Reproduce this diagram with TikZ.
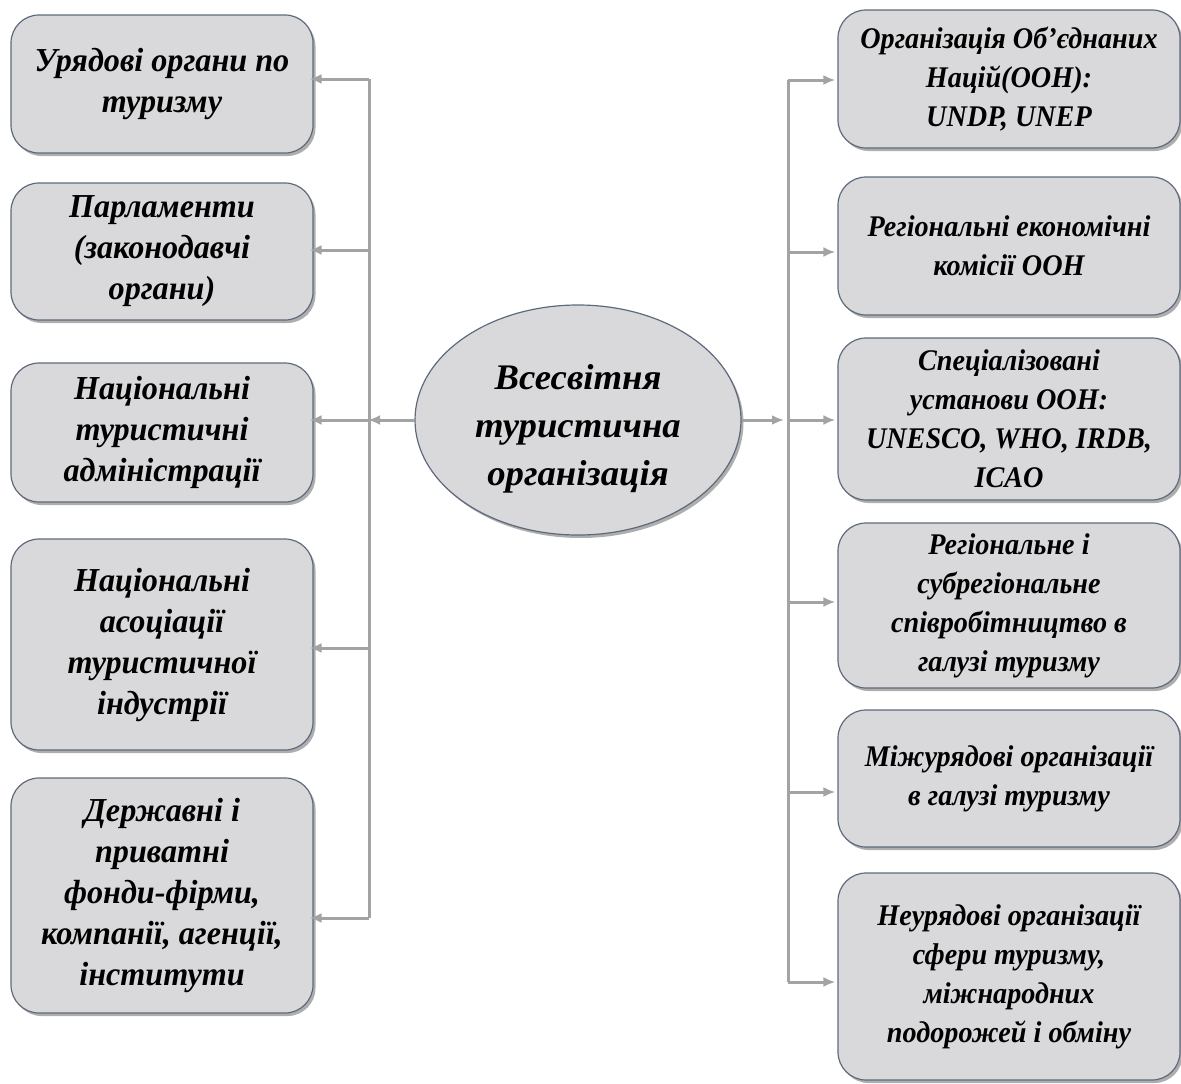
\documentclass[tikz,border=0pt]{standalone}
\usepackage{fontspec}
\setmainfont{Liberation Serif}
\newfontfamily\lfont{Liberation Serif}[FakeStretch=0.96]
\newfontfamily\rfont{Liberation Serif}[FakeStretch=0.94]
\newfontfamily\cfont{Liberation Serif}[FakeStretch=1.02]
\usetikzlibrary{arrows.meta,shadows,shapes.geometric}
\definecolor{boxfill}{HTML}{D9D9DB}
\definecolor{boxline}{HTML}{5E6A7C}
\definecolor{arrgray}{HTML}{A3A3A3}
\tikzset{
  basebox/.style={draw=boxline, line width=1.2pt, fill=boxfill, align=center, inner sep=0pt,
    drop shadow={shadow xshift=2.5pt, shadow yshift=-3pt, opacity=0.45, fill=black!70}},
  lbox/.style={basebox, rectangle, rounded corners=28pt, minimum width=302pt,
    font=\lfont\fontsize{33.5}{41}\selectfont\bfseries\itshape},
  rbox/.style={basebox, rectangle, rounded corners=28pt, minimum width=342pt,
    font=\rfont\fontsize{30}{39}\selectfont\bfseries\itshape},
  cbox/.style={basebox, ellipse, minimum width=326pt, minimum height=230pt,
    font=\cfont\fontsize{36}{48}\selectfont\bfseries\itshape},
  trunk/.style={draw=arrgray, line width=3pt},
  arrow/.style={draw=arrgray, line width=3pt, -{Latex[length=12pt,width=10pt]}}
}
\begin{document}
\begin{tikzpicture}[x=1pt,y=-1pt]
\useasboundingbox (0,0) rectangle (1181,1084);
\fill[white] (0,0) rectangle (1181,1084);

% left boxes
\node[lbox, minimum height=138pt] (L1) at (162,84) {Урядові органи по\\туризму};
\node[lbox, minimum height=137pt] (L2) at (162,251.5) {Парламенти\\(законодавчі\\органи)};
\node[lbox, minimum height=139pt] (L3) at (162,432.5) {Національні\\туристичні\\адміністрації};
\node[lbox, minimum height=211pt] (L4) at (162,644.5) {Національні\\асоціації\\туристичної\\індустрії};
\node[lbox, minimum height=235pt] (L5) at (162,895.5) {Державні і\\приватні\\фонди-фірми,\\компанії, агенції,\\інститути};

% right boxes
\node[rbox, minimum height=138pt] (R1) at (1009,79) {Організація Об’єднаних\\Націй(ООН):\\UNDP, UNEP};
\node[rbox, minimum height=138pt] (R2) at (1009,246) {Регіональні економічні\\комісії ООН};
\node[rbox, minimum height=162pt] (R3) at (1009,419) {Спеціалізовані\\установи ООН:\\UNESCO, WHO, IRDB,\\ICAO};
\node[rbox, minimum height=165pt] (R4) at (1009,605.5) {Регіональне і\\субрегіональне\\співробітництво в\\галузі туризму};
\node[rbox, minimum height=137pt] (R5) at (1009,778.5) {Міжурядові організації\\в галузі туризму};
\node[rbox, minimum height=207pt] (R6) at (1009,976.5) {Неурядові організації\\сфери туризму,\\міжнародних\\подорожей і обміну};

% central ellipse
\node[cbox] (C) at (578,420) {\rule{0pt}{42pt}Всесвітня\\туристична\\організація};

% left trunk
\coordinate (l1) at (369,79);
\coordinate (l2) at (369,250);
\coordinate (lc) at (369,420);
\coordinate (l4) at (369,648);
\coordinate (l5) at (369,918);
\draw[trunk] (l1) -- (l5);
\draw[arrow, shorten >=-1pt] (C.west) -- (lc);
\draw[arrow, shorten >=-4pt] (l1) -- (l1 -| L1.east);
\draw[arrow, shorten >=-4pt] (l2) -- (l2 -| L2.east);
\draw[arrow, shorten >=-4pt] (lc) -- (lc -| L3.east);
\draw[arrow, shorten >=-4pt] (l4) -- (l4 -| L4.east);
\draw[arrow, shorten >=-4pt] (l5) -- (l5 -| L5.east);

% right trunk
\coordinate (r1) at (788,80);
\coordinate (r2) at (788,252);
\coordinate (rc) at (788,420);
\coordinate (r4) at (788,602);
\coordinate (r5) at (788,792);
\coordinate (r6) at (788,982);
\draw[trunk] (r1) -- (r6);
\draw[arrow, shorten >=4pt] (C.east) -- (rc);
\draw[arrow, shorten >=2pt] (r1) -- (r1 -| R1.west);
\draw[arrow, shorten >=2pt] (r2) -- (r2 -| R2.west);
\draw[arrow, shorten >=2pt] (rc) -- (rc -| R3.west);
\draw[arrow, shorten >=2pt] (r4) -- (r4 -| R4.west);
\draw[arrow, shorten >=2pt] (r5) -- (r5 -| R5.west);
\draw[arrow, shorten >=2pt] (r6) -- (r6 -| R6.west);
\end{tikzpicture}
\end{document}
